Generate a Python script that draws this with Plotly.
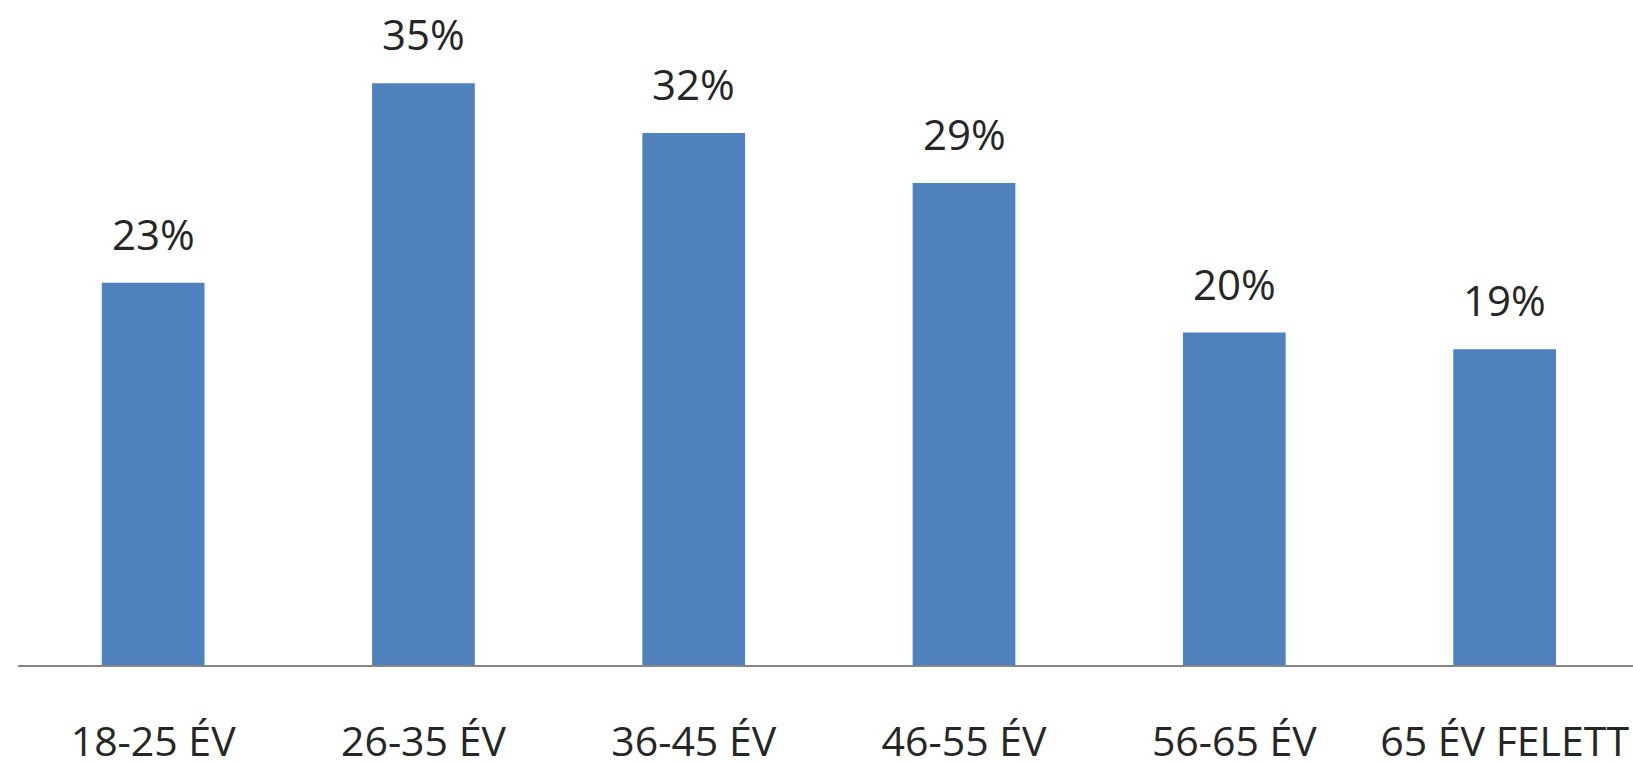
import plotly.graph_objects as go

# Age groups and the share of respondents in each
categories = ["18-25 ÉV", "26-35 ÉV", "36-45 ÉV", "46-55 ÉV", "56-65 ÉV", "65 ÉV FELETT"]
values = [23, 35, 32, 29, 20, 19]
value_labels = [f"{v}%" for v in values]

BAR_COLOR = "#4F81BD"
TEXT_COLOR = "#262626"
FONT = "Open Sans"

fig = go.Figure()
fig.add_trace(go.Bar(
    x=categories,
    y=values,
    width=0.38,
    marker=dict(color=BAR_COLOR, line=dict(width=0)),
    hoverinfo="skip",
))

# Percentage labels above each bar
for cat, v, lab in zip(categories, values, value_labels):
    fig.add_annotation(
        x=cat, y=v, text=lab, showarrow=False,
        xanchor="center", yanchor="bottom", yshift=19,
        font=dict(family=FONT, size=42, color=TEXT_COLOR),
    )

fig.update_layout(
    width=1633, height=763,
    margin=dict(l=18, r=0, t=0, b=98),
    paper_bgcolor="white",
    plot_bgcolor="white",
    showlegend=False,
    font=dict(family=FONT, size=41, color=TEXT_COLOR),
)
fig.update_xaxes(
    range=[-0.5, 5.475],
    automargin=False,
    showline=True, linecolor="#868686", linewidth=2,
    showgrid=False, zeroline=False,
    ticks="", ticklabelstandoff=40,
    tickfont=dict(family=FONT, size=41, color=TEXT_COLOR),
)
fig.update_yaxes(
    range=[0, 40],
    automargin=False,
    visible=False, showgrid=False, zeroline=False,
)

fig.write_html("out.html")
